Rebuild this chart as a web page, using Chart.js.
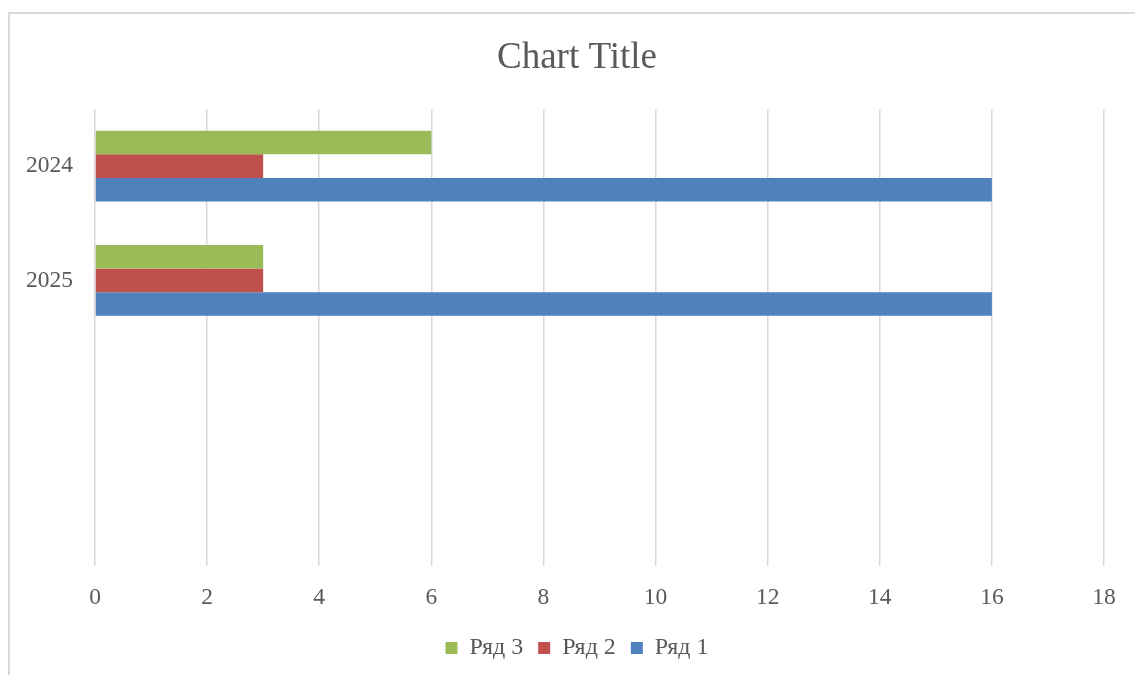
<!DOCTYPE html>
<html>
<head>
<meta charset="utf-8">
<script src="https://cdn.jsdelivr.net/npm/chart.js@4.4.0/dist/chart.umd.min.js"></script>
<style>
  html, body { margin: 0; padding: 0; background: #fff; overflow: hidden; width: 1135px; height: 675px; }
  #frame { position: absolute; left: 8px; top: 12px; width: 1160px; height: 700px;
           border-left: 2px solid #d9d9d9; border-top: 2px solid #d9d9d9; background: #fff; }
  canvas { position: absolute; left: 0; top: 0; }
</style>
</head>
<body>
<div id="frame"><canvas id="c" width="1134" height="661"></canvas></div>
<script>
const categories = ['2024', '2025', '', ''];
const seriesNames = ['Ряд 3', 'Ряд 2', 'Ряд 1'];
const series3 = [6, 3, null, null];
const series2 = [3, 3, null, null];
const series1 = [16, 16, null, null];
const xTicks = [0, 2, 4, 6, 8, 10, 12, 14, 16, 18];

const colors = ['#9BBB59', '#C0504D', '#4F81BD'];
const textColor = '#595959';
const fontFamily = '"Liberation Serif", "Times New Roman", serif';

new Chart(document.getElementById('c'), {
  type: 'bar',
  data: {
    labels: categories,
    datasets: [
      { label: seriesNames[0], data: series3, backgroundColor: colors[0] },
      { label: seriesNames[1], data: series2, backgroundColor: colors[1] },
      { label: seriesNames[2], data: series1, backgroundColor: colors[2] }
    ]
  },
  options: {
    indexAxis: 'y',
    responsive: false,
    animation: false,
    devicePixelRatio: 1,
    categoryPercentage: 0.619,
    barPercentage: 1,
    layout: { padding: { left: 0, right: 0, top: 0, bottom: 5 } },
    scales: {
      x: {
        min: xTicks[0],
        max: xTicks[xTicks.length - 1],
        afterBuildTicks: (s) => { s.ticks = xTicks.map(v => ({ value: v })); },
        afterFit: (s) => { s.height = 55; },
        grid: { color: '#d9d9d9', lineWidth: 1.5, drawTicks: false },
        border: { display: false },
        ticks: { color: textColor, font: { family: fontFamily, size: 23.5 }, padding: 18 }
      },
      y: {
        afterFit: (s) => { s.width = 85; },
        grid: { display: false, drawTicks: false },
        border: { display: false },
        ticks: { color: textColor, font: { family: fontFamily, size: 23.5 }, padding: 22 }
      },
      yRight: {
        type: 'linear',
        axis: 'y',
        position: 'right',
        display: true,
        afterFit: (s) => { s.width = 40; },
        grid: { display: false, drawTicks: false },
        border: { display: false },
        ticks: { display: false }
      }
    },
    plugins: {
      title: {
        display: true,
        text: 'Chart Title',
        color: textColor,
        font: { family: fontFamily, size: 37, weight: 'normal' },
        padding: { top: 22, bottom: 28.6 }
      },
      legend: {
        position: 'bottom',
        labels: {
          color: textColor,
          font: { family: fontFamily, size: 24 },
          boxWidth: 12,
          boxHeight: 12,
          padding: 15
        }
      },
      tooltip: { enabled: false }
    }
  }
});
</script>
</body>
</html>
